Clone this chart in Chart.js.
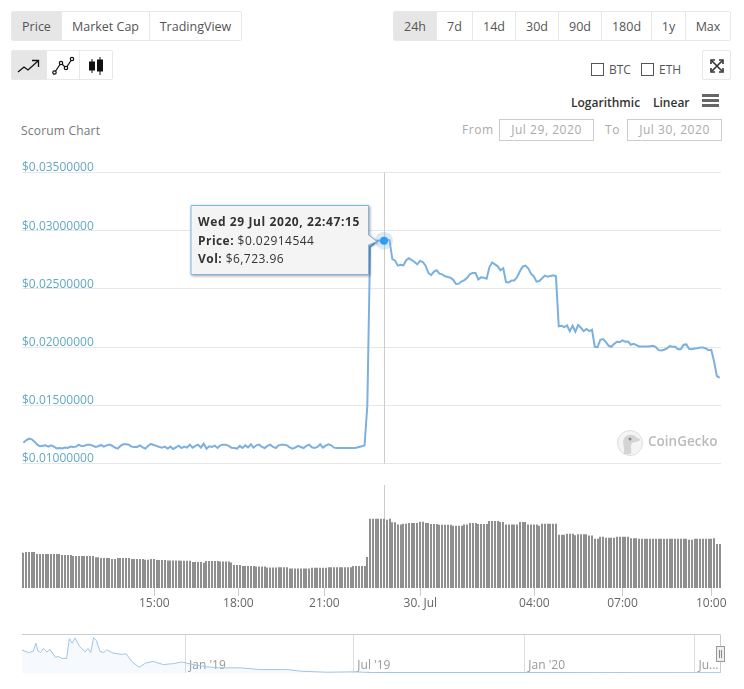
<!DOCTYPE html>
<html>
<head>
<meta charset="utf-8">
<title>Scorum Chart</title>
<script src="https://cdn.jsdelivr.net/npm/chart.js@4"></script>
<style>
  html, body { margin: 0; background: #fff; }
  body { position: relative; width: 744px; height: 689px; overflow: hidden; font-family: "Open Sans", sans-serif; font-size: 12px; color: #555; }
  canvas, .abs { position: absolute; }
  .group { position: absolute; display: flex; box-sizing: border-box; height: 30px; border: 1px solid #e8e8e8; border-radius: 2px; }
  .group div { display: flex; align-items: center; justify-content: center; box-sizing: border-box; height: 100%; padding-top: 1px; border-left: 1px solid #e8e8e8; font-size: 12.5px; }
  .group div:first-child { border-left: 0; }
  .group .on { background: #e6e6e6; }
  .check { position: absolute; box-sizing: border-box; width: 13px; height: 13px; border: 1px solid #555; }
  .date { position: absolute; box-sizing: border-box; top: 119px; height: 22px; width: 95px; border: 1px solid #ccc; color: #aaa; text-align: center; line-height: 20px; letter-spacing: .55px; }
  .muted { color: #aaa; letter-spacing: .55px; }
  #tip { left: 198px; top: 213px; width: 170px; line-height: 18.5px; color: #333; white-space: nowrap; letter-spacing: .45px; }
  #tip b:first-child { letter-spacing: .6px; }
</style>
</head>
<body>

<div class="group" style="left:11px;top:11px;width:231px">
  <div class="on" style="width:49px">Price</div>
  <div style="width:88px">Market Cap</div>
  <div style="width:92px">TradingView</div>
</div>

<div class="group" style="left:11px;top:50px;width:102px">
  <div class="on" style="width:34px">
    <svg width="24" height="18" fill="none" stroke="#111" stroke-width="1.3"><path d="M1 15 7 10l4 3 10-9M15 3.5h6.5V10"/></svg>
  </div>
  <div style="width:33px">
    <svg width="24" height="20" fill="none" stroke="#111" stroke-width="1.2"><path d="M4 16 10 7l5 5 6-9"/><circle cx="3.5" cy="16.5" r="1.7" fill="#fff"/><circle cx="10" cy="7" r="1.7" fill="#fff"/><circle cx="15" cy="12" r="1.7" fill="#fff"/><circle cx="21" cy="3" r="1.7" fill="#fff"/></svg>
  </div>
  <div style="width:33px">
    <svg width="16" height="20" stroke="#111" fill="#111"><path d="M4 3v14M12 1v18" stroke-width="1"/><rect x="1.5" y="6" width="5" height="8"/><rect x="9.5" y="4" width="5" height="11"/></svg>
  </div>
</div>

<div class="group" style="left:393px;top:11px;width:338px">
  <div class="on" style="width:42px">24h</div>
  <div style="width:36px">7d</div>
  <div style="width:43px">14d</div>
  <div style="width:43px">30d</div>
  <div style="width:43px">90d</div>
  <div style="width:50px">180d</div>
  <div style="width:34px">1y</div>
  <div style="width:45px">Max</div>
</div>

<div class="check" style="left:591px;top:63px"></div>
<div class="abs" style="left:609px;top:61px">BTC</div>
<div class="check" style="left:641px;top:63px"></div>
<div class="abs" style="left:659px;top:61px">ETH</div>

<div class="group" style="left:702px;top:50px;width:29px">
  <div style="width:27px">
    <svg width="14" height="14" fill="none" stroke="#333" stroke-width="1.6"><path d="M2 2l10 10M12 2 2 12"/><path d="M1 5V1h4M9 1h4v4M13 9v4H9M5 13H1V9" stroke-width="1.6"/></svg>
  </div>
</div>

<div class="abs" style="left:571px;top:94px;color:#333;font-weight:600">Logarithmic</div>
<div class="abs" style="left:653px;top:94px;color:#333;font-weight:600">Linear</div>
<svg class="abs" style="left:702px;top:94px" width="18" height="14" fill="#666"><rect y="0" width="17" height="3"/><rect y="5" width="17" height="3"/><rect y="10" width="17" height="3"/></svg>

<div class="abs" style="left:21px;top:122px;color:#777;letter-spacing:.2px">Scorum Chart</div>
<div class="abs muted" style="left:462px;top:121px">From</div>
<div class="date" style="left:499px">Jul 29, 2020</div>
<div class="abs muted" style="left:605px;top:121px">To</div>
<div class="date" style="left:627px">Jul 30, 2020</div>

<canvas id="priceChart" width="744" height="330" style="left:0;top:150px"></canvas>
<canvas id="volumeChart" width="744" height="145" style="left:0;top:470px"></canvas>
<canvas id="navChart" width="744" height="55" style="left:0;top:625px"></canvas>

<svg class="abs" style="left:616px;top:429px" width="28" height="28">
  <circle cx="14" cy="14" r="12.5" fill="#f4f4f4" stroke="#ddd"/>
  <path d="M8 25C9 17 5 13 9 8c3-3 9-3 11 0 2 1 4 2 4 3-2 2-6 2-8 3-2 3 0 8-1 11z" fill="#d4d4d4"/>
  <circle cx="14" cy="10" r="1.5" fill="#888"/>
</svg>
<div class="abs" style="left:648px;top:432px;font-size:13.5px;font-weight:600;color:#bbb">CoinGecko</div>

<svg class="abs" style="left:185px;top:200px;overflow:visible" width="200" height="85">
  <path d="M6 5.5H183.5V35L192 41.5 183.5 45V74.5H6Z" fill="#f8f8f8" fill-opacity=".96" stroke="#7cb5ec" style="filter:drop-shadow(1px 1px 1.5px rgba(0,0,0,.4))"/>
</svg>
<div id="tip" class="abs"></div>

<svg class="abs" style="left:716px;top:646px" width="10" height="17"><rect x=".5" y=".5" width="8" height="15" fill="#eee" stroke="#999"/><path d="M3.5 4v8M5.5 4v8" stroke="#888"/></svg>

<script>
// price per data point, in USD
const priceValues = [
  0.01179, 0.01199, 0.01214, 0.01208, 0.01188, 0.01162, 0.01148, 0.01153, 0.01156, 0.01145,
  0.01156, 0.01145, 0.01130, 0.01134, 0.01130, 0.01137, 0.01134, 0.01145, 0.01142, 0.01145,
  0.01162, 0.01148, 0.01153, 0.01162, 0.01162, 0.01153, 0.01142, 0.01148, 0.01159, 0.01145,
  0.01156, 0.01162, 0.01153, 0.01136, 0.01128, 0.01151, 0.01165, 0.01165, 0.01162, 0.01145,
  0.01142, 0.01142, 0.01156, 0.01139, 0.01128, 0.01153, 0.01168, 0.01159, 0.01151, 0.01142,
  0.01136, 0.01145, 0.01128, 0.01145, 0.01125, 0.01139, 0.01153, 0.01133, 0.01145, 0.01136,
  0.01162, 0.01136, 0.01151, 0.01162, 0.01136, 0.01171, 0.01128, 0.01148, 0.01142, 0.01153,
  0.01133, 0.01156, 0.01162, 0.01162, 0.01151, 0.01136, 0.01133, 0.01128, 0.01151, 0.01133,
  0.01156, 0.01139, 0.01165, 0.01136, 0.01156, 0.01162, 0.01142, 0.01133, 0.01151, 0.01162,
  0.01142, 0.01133, 0.01156, 0.01162, 0.01162, 0.01156, 0.01139, 0.01128, 0.01136, 0.01151,
  0.01142, 0.01133, 0.01151, 0.01162, 0.01139, 0.01133, 0.01142, 0.01165, 0.01136, 0.01153,
  0.01165, 0.01156, 0.01136, 0.01133, 0.01133, 0.01133, 0.01133, 0.01133, 0.01133, 0.01133,
  0.01136, 0.01142, 0.01148, 0.01156, 0.01500, 0.02860, 0.02880, 0.02905, 0.02915, 0.02915,
  0.02914544, 0.02924, 0.02918, 0.02757, 0.02743, 0.02700, 0.02708, 0.02703, 0.02746, 0.02763,
  0.02748, 0.02731, 0.02711, 0.02740, 0.02731, 0.02700, 0.02637, 0.02619, 0.02648, 0.02660,
  0.02631, 0.02625, 0.02608, 0.02602, 0.02596, 0.02576, 0.02542, 0.02545, 0.02565, 0.02576,
  0.02596, 0.02628, 0.02637, 0.02637, 0.02582, 0.02599, 0.02596, 0.02588, 0.02685, 0.02728,
  0.02711, 0.02694, 0.02660, 0.02677, 0.02559, 0.02556, 0.02573, 0.02573, 0.02602, 0.02651,
  0.02691, 0.02700, 0.02677, 0.02631, 0.02608, 0.02562, 0.02568, 0.02591, 0.02614, 0.02605,
  0.02611, 0.02617, 0.02608, 0.02178, 0.02183, 0.02172, 0.02186, 0.02137, 0.02183, 0.02132,
  0.02189, 0.02166, 0.02137, 0.02155, 0.02137, 0.02149, 0.02003, 0.02000, 0.02063, 0.02069,
  0.02043, 0.02011, 0.02003, 0.02028, 0.02046, 0.02043, 0.02057, 0.02046, 0.02048, 0.02020,
  0.02028, 0.02017, 0.02005, 0.02005, 0.02005, 0.02005, 0.02008, 0.02011, 0.02000, 0.01974,
  0.01971, 0.01977, 0.01988, 0.02008, 0.02003, 0.02003, 0.01982, 0.01982, 0.02020, 0.02023,
  0.01985, 0.01982, 0.01988, 0.01991, 0.01997, 0.01997, 0.01988, 0.01974, 0.01977, 0.01876,
  0.01753, 0.01736
];

// traded volume per data point, in USD
const volumeValues = [
  3431, 3497, 3497, 3497, 3497, 3301, 3301, 3301, 3301, 3301,
  3301, 3301, 3301, 3301, 3203, 3203, 3203, 3203, 3105, 3105,
  3105, 3105, 3105, 3105, 3105, 3105, 2974, 2974, 2908, 2908,
  2908, 2908, 2810, 2810, 2908, 2908, 2908, 2908, 2908, 2810,
  2810, 2810, 2810, 2810, 2745, 2745, 2810, 2810, 2712, 2712,
  2712, 2712, 2680, 2680, 2680, 2680, 2680, 2647, 2647, 2647,
  2647, 2516, 2516, 2516, 2516, 2451, 2614, 2614, 2614, 2614,
  2614, 2582, 2582, 2582, 2582, 2484, 2222, 2222, 2222, 2124,
  2124, 2124, 2124, 2124, 2092, 2092, 2092, 2092, 1993, 1993,
  1993, 1993, 2026, 2026, 2026, 2026, 1895, 1895, 1895, 1895,
  1895, 1895, 1895, 1895, 1961, 1961, 1961, 1961, 1961, 1961,
  2026, 2026, 2026, 2026, 2026, 2026, 2026, 2026, 2026, 2124,
  2124, 2124, 2124, 2124, 3007, 6732, 6732, 6732, 6732, 6732,
  6723.96, 6634, 6732, 6373, 6373, 6177, 6177, 6242, 6242, 6307,
  6307, 6307, 6307, 6438, 6438, 6307, 6307, 6209, 6209, 6209,
  6144, 6144, 6144, 6144, 6144, 6046, 6046, 6046, 6046, 6177,
  6177, 6307, 6307, 6307, 6209, 6209, 6209, 6209, 6503, 6503,
  6503, 6503, 6405, 6405, 6177, 6177, 6177, 6177, 6177, 6405,
  6405, 6405, 6177, 6177, 6177, 6177, 6046, 6242, 6242, 6242,
  6242, 6242, 6242, 5163, 5163, 5163, 5261, 5261, 5261, 5131,
  5229, 5229, 5229, 5229, 5098, 5098, 4771, 4771, 4967, 4967,
  4869, 4869, 4869, 4869, 4967, 4967, 4967, 4967, 4967, 4837,
  4837, 4837, 4771, 4771, 4771, 4771, 4771, 4771, 4771, 4771,
  4771, 4771, 4771, 4771, 4771, 4771, 4771, 4771, 4771, 4771,
  4673, 4673, 4771, 4771, 4771, 4771, 4771, 4771, 4771, 4837,
  4281, 4281
];

const priceTicks = [0.01, 0.015, 0.02, 0.025, 0.03, 0.035];

// the time axis is ordinal, so hour labels sit at point positions
const timeTickPoints = [47.2, 77.5, 108.5, 143.1, 184.2, 216, 248];
const timeTickLabels = ["15:00", "18:00", "21:00", "30. Jul", "04:00", "07:00", "10:00"];

// navigator history: days since the first sample, and price
const navDays = [
  0, 7, 12, 15, 17, 20, 23, 27, 30, 36, 39, 43, 48, 51, 54, 57, 62, 68, 71, 74, 77, 80,
  84, 88, 91, 98, 107, 112, 118, 126, 133, 141, 152, 163, 172, 181, 199, 213, 235, 256,
  285, 300, 328, 357, 377, 500, 620, 752
];
const navPrices = [
  0.293, 0.263, 0.276, 0.382, 0.285, 0.263, 0.314, 0.268, 0.306, 0.2, 0.213, 0.187,
  0.187, 0.441, 0.382, 0.449, 0.339, 0.272, 0.314, 0.263, 0.453, 0.415, 0.276, 0.263,
  0.298, 0.256, 0.238, 0.247, 0.149, 0.073, 0.129, 0.149, 0.108, 0.12, 0.142, 0.116,
  0.078, 0.066, 0.066, 0.044, 0.044, 0.023, 0.01, 0.015, 0.006, 0.006, 0.005, 0.004
];
const navTickDays = [176, 357, 541, 724];
const navTickLabels = ["Jan '19", "Jul '19", "Jan '20", "Ju..."];

const hoverIndex = 130;
const hoverTime = "Wed 29 Jul 2020, 22:47:15";

const FONT = "'Open Sans', sans-serif";
const lastIndex = priceValues.length - 1;

Chart.defaults.animation = false;
Chart.defaults.responsive = false;
Chart.defaults.font.family = FONT;
Chart.defaults.plugins.legend.display = false;
Chart.defaults.plugins.tooltip.enabled = false;

document.getElementById("tip").innerHTML =
  "<b>" + hoverTime + "</b><br><b>Price:</b> $" + priceValues[hoverIndex].toFixed(8) +
  "<br><b>Vol:</b> $" + volumeValues[hoverIndex].toLocaleString("en-US", { minimumFractionDigits: 2 });

// vertical crosshair through the hovered point
const crosshair = {
  id: "crosshair",
  beforeDatasetsDraw(chart) {
    const x = Math.round(chart.scales.x.getPixelForValue(hoverIndex)) + 0.5;
    const { top, bottom } = chart.chartArea;
    const c = chart.ctx;
    c.save();
    c.strokeStyle = "#cccccc";
    c.lineWidth = 1;
    c.beginPath();
    c.moveTo(x, top);
    c.lineTo(x, bottom);
    c.stroke();
    c.restore();
  },
};

// snap bars to whole pixels so the thin columns stay crisp
const crispBars = {
  id: "crispBars",
  afterDatasetsUpdate(chart) {
    chart.getDatasetMeta(0).data.forEach((bar) => {
      bar.x = Math.round(bar.x);
    });
  },
};

// date labels inside the navigator, drawn under its line; the scale would clip them
const navLabels = {
  id: "navLabels",
  beforeDatasetsDraw(chart) {
    const c = chart.ctx;
    c.save();
    c.fillStyle = "#999";
    c.font = "12px " + FONT;
    c.textBaseline = "middle";
    navTickDays.forEach((day, i) => {
      c.fillText(navTickLabels[i], chart.scales.x.getPixelForValue(day) + 3.5, chart.chartArea.bottom - 7);
    });
    c.restore();
  },
};

// top and right edge of the navigator
const navFrame = {
  id: "navFrame",
  afterDraw(chart) {
    const { left, right, top, bottom } = chart.chartArea;
    const c = chart.ctx;
    c.save();
    c.strokeStyle = "#cccccc";
    c.lineWidth = 1;
    c.beginPath();
    c.moveTo(left, top + 0.5);
    c.lineTo(right - 0.5, top + 0.5);
    c.lineTo(right - 0.5, bottom);
    c.stroke();
    c.restore();
  },
};

// Price line
new Chart(document.getElementById("priceChart"), {
  type: "line",
  data: {
    datasets: [
      {
        data: priceValues.map((y, x) => ({ x, y })),
        borderColor: "#7cb0de",
        borderWidth: 2,
        tension: 0,
        pointRadius: (c) => (c.dataIndex === hoverIndex ? 4 : 0),
        pointBackgroundColor: "#2f9cf3",
        pointBorderWidth: 0,
      },
      {
        // soft halo around the hovered point
        data: [{ x: hoverIndex, y: priceValues[hoverIndex] }],
        showLine: false,
        pointRadius: 9,
        pointBackgroundColor: "rgba(124,176,222,0.28)",
        pointBorderWidth: 0,
      },
    ],
  },
  options: {
    layout: { padding: { left: 22, right: 23, top: 22.5, bottom: 16.5 } },
    scales: {
      x: { type: "linear", display: false, min: -0.5, max: lastIndex + 0.5 },
      y: {
        min: 0.01,
        max: 0.035,
        afterBuildTicks: (s) => { s.ticks = priceTicks.map((value) => ({ value })); },
        afterFit: (s) => { s.width = 0; },
        border: { display: false },
        grid: { color: "#e6e6e6", drawTicks: false },
        ticks: {
          mirror: true,
          padding: 0,
          labelOffset: -4.5,
          color: "#62a9c4",
          font: { size: 12 },
          callback: (v) => "$" + v.toFixed(8),
        },
      },
    },
  },
  plugins: [crosshair],
});

// Volume bars
new Chart(document.getElementById("volumeChart"), {
  type: "bar",
  data: {
    datasets: [
      {
        data: volumeValues.map((y, x) => ({ x, y })),
        backgroundColor: "#8f8f8f",
        barThickness: 2,
        inflateAmount: 0,
      },
    ],
  },
  options: {
    layout: { padding: { left: 22, right: 23, top: 15, bottom: 0 } },
    scales: {
      x: {
        type: "linear",
        offset: false,
        min: -0.5,
        max: lastIndex + 0.5,
        afterBuildTicks: (s) => { s.ticks = timeTickPoints.map((value) => ({ value })); },
        afterFit: (s) => { s.height = 27; },
        border: { display: false },
        grid: { offset: false, drawOnChartArea: false, color: "#cccccc", tickLength: 8 },
        ticks: {
          autoSkip: false,
          maxRotation: 0,
          padding: 0,
          color: "#666",
          font: { size: 12 },
          callback: (v, i) => timeTickLabels[i],
        },
      },
      y: {
        min: 0,
        max: 10000,
        display: false,
      },
    },
  },
  plugins: [crosshair, crispBars],
});

// Navigator strip with the full price history
new Chart(document.getElementById("navChart"), {
  type: "line",
  data: {
    datasets: [
      {
        data: navPrices.map((y, i) => ({ x: navDays[i], y })),
        borderColor: "#9fc6e4",
        borderWidth: 1,
        tension: 0,
        pointRadius: 0,
        fill: "origin",
        backgroundColor: "rgba(124,181,236,0.07)",
      },
    ],
  },
  options: {
    layout: { padding: { left: 22, right: 23, top: 9, bottom: 7 } },
    scales: {
      x: {
        type: "linear",
        min: 0,
        max: 752,
        afterBuildTicks: (s) => { s.ticks = navTickDays.map((value) => ({ value })); },
        afterFit: (s) => { s.height = 0; },
        border: { display: false },
        grid: { color: "#dddddd", drawTicks: false },
        ticks: { display: false },
      },
      y: { min: 0, max: 0.5, display: false },
    },
  },
  plugins: [navLabels, navFrame],
});
</script>
</body>
</html>
